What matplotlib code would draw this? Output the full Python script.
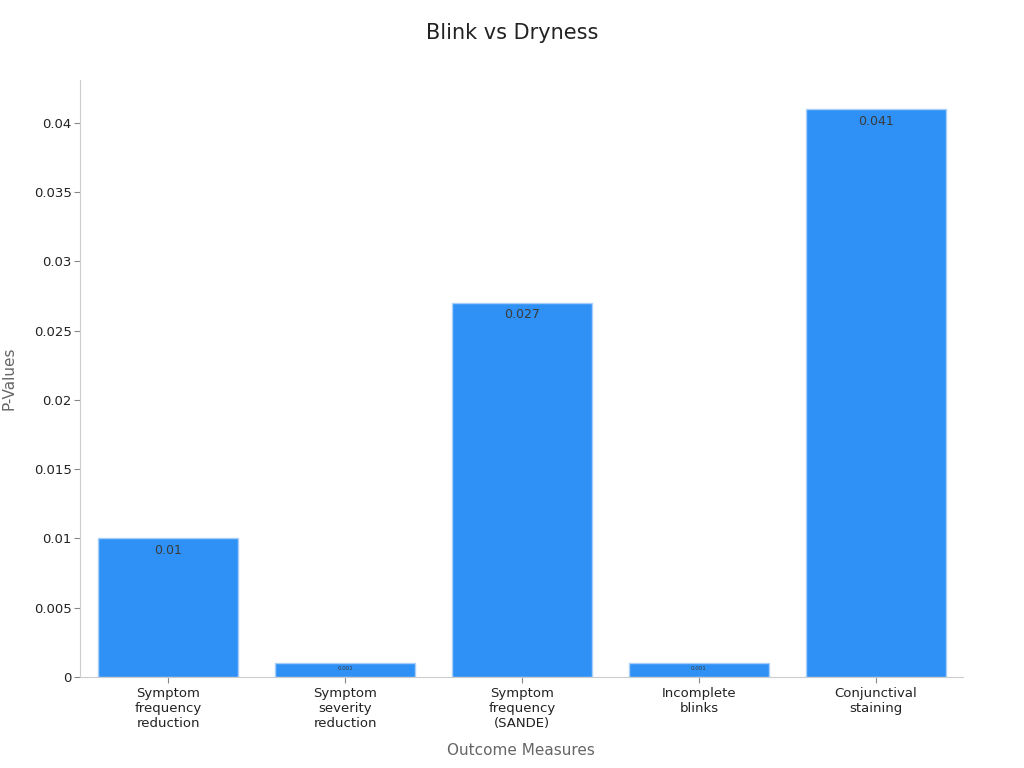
import matplotlib
matplotlib.use("Agg")
import matplotlib.pyplot as plt

categories = [
    "Symptom\nfrequency\nreduction",
    "Symptom\nseverity\nreduction",
    "Symptom\nfrequency\n(SANDE)",
    "Incomplete\nblinks",
    "Conjunctival\nstaining",
]
p_values = [0.01, 0.001, 0.027, 0.001, 0.041]
y_ticks = [0, 0.005, 0.01, 0.015, 0.02, 0.025, 0.03, 0.035, 0.04]
y_tick_labels = ["0", "0.005", "0.01", "0.015", "0.02", "0.025", "0.03", "0.035", "0.04"]

plt.rcParams["font.family"] = ["DejaVu Sans"]

fig = plt.figure(figsize=(10.24, 7.68), dpi=100)
ax = fig.add_axes([0.078, 0.1185, 0.862, 0.7775])

x = range(len(categories))
bars = ax.bar(x, p_values, width=0.79, color="#2f91f6", edgecolor="#a9cff8", linewidth=1)

# value labels just inside the top of each bar
for b, v in zip(bars, p_values):
    small = v < 0.005
    ax.annotate(f"{v:g}", (b.get_x() + b.get_width() / 2, v),
                xytext=(0, -2 if small else -4), textcoords="offset points",
                ha="center", va="top", fontsize=4 if small else 9, color="#3a3a3a")

ax.set_xlim(-0.5, 4.49)
ax.set_ylim(0, 0.0431)
ax.set_xticks(list(x))
ax.set_xticklabels(categories, fontsize=9.5, color="#222222")
ax.set_yticks(y_ticks)
ax.set_yticklabels(y_tick_labels, fontsize=9.5, color="#222222")
ax.tick_params(axis="both", color="#888888", length=4)
ax.tick_params(axis="y", pad=2)

for s in ["top", "right"]:
    ax.spines[s].set_visible(False)
for s in ["left", "bottom"]:
    ax.spines[s].set_color("#cccccc")

ax.set_xlabel("Outcome Measures", fontsize=11, color="#666666", labelpad=9)
ax.set_ylabel("P-Values", fontsize=11, color="#666666", labelpad=12)
fig.suptitle("Blink vs Dryness", fontsize=15, color="#222222", y=0.97)

fig.savefig("out.png", dpi=100)
